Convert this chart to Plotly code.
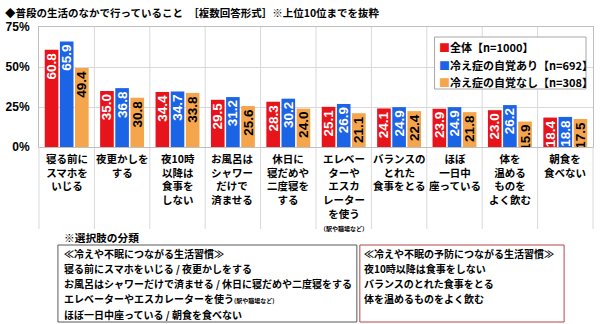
import plotly.graph_objects as go

categories = [
    "寝る前に<br>スマホを<br>いじる",
    "夜更かしを<br>する",
    "夜10時<br>以降は<br>食事を<br>しない",
    "お風呂は<br>シャワー<br>だけで<br>済ませる",
    "休日に<br>寝だめや<br>二度寝を<br>する",
    "エレベー<br>ターや<br>エスカ<br>レーター<br>を使う<br><span style='font-size:6px'>（駅や職場など）</span>",
    "バランスの<br>とれた<br>食事をとる",
    "ほぼ<br>一日中<br>座っている",
    "体を<br>温める<br>ものを<br>よく飲む",
    "朝食を<br>食べない",
]
series_names = ["全体【n=1000】", "冷え症の自覚あり【n=692】", "冷え症の自覚なし【n=308】"]
all_vals = [60.8, 35.0, 34.4, 29.5, 28.3, 25.1, 24.1, 23.9, 23.0, 18.4]
yes_vals = [65.9, 36.8, 34.7, 31.2, 30.2, 26.9, 24.9, 24.9, 26.2, 18.8]
no_vals = [49.4, 30.8, 33.8, 25.6, 24.0, 21.1, 22.4, 21.8, 15.9, 17.5]
y_ticks = [0, 25, 50, 75]
y_tick_labels = ["0%", "25%", "50%", "75%"]
title_text = "◆普段の生活のなかで行っていること　［複数回答形式］※上位10位までを抜粋"
note_title = "※選択肢の分類"
left_lines = [
    "≪冷えや不眠につながる生活習慣≫",
    "寝る前にスマホをいじる / 夜更かしをする",
    "お風呂はシャワーだけで済ませる / 休日に寝だめや二度寝をする",
    "エレベーターやエスカレーターを使う<span style='font-size:6px'>(駅や職場など)</span>",
    "ほぼ一日中座っている / 朝食を食べない",
]
right_lines = [
    "≪冷えや不眠の予防につながる生活習慣≫",
    "夜10時以降は食事をしない",
    "バランスのとれた食事をとる",
    "体を温めるものをよく飲む",
]

colors = ["#E8141C", "#1C64E6", "#F5A54C"]
text_colors = ["white", "white", "black"]
JP = "Noto Sans CJK JP"

# plot area in pixels
L, R, T, B = 38, 594, 27, 147
W, H = R - L, B - T


def px(x):
    return (x - L) / W


def py(y):
    return (B - y) / H


fig = go.Figure()
xs = list(range(len(categories)))
for name, vals, c, tc in zip(series_names, [all_vals, yes_vals, no_vals], colors, text_colors):
    fig.add_trace(go.Bar(
        x=xs, y=vals, name=name, marker=dict(color=c, line=dict(width=0)),
        text=[f"{v:.1f}" for v in vals], textposition="inside", insidetextanchor="end",
        textangle=-90, constraintext="none",
        textfont=dict(family="Liberation Sans", size=13.5, color=tc, weight="bold"),
        showlegend=False,
    ))

shapes = []
for i in range(len(categories) - 1):
    shapes.append(dict(type="line", xref="x", yref="paper", x0=i + 0.5, x1=i + 0.5,
                       y0=py(229), y1=1, line=dict(color="#d9d9d9", width=1), layer="below"))
shapes.append(dict(type="line", xref="paper", yref="paper", x0=0, x1=0, y0=py(229), y1=0,
                   line=dict(color="#d9d9d9", width=1)))
shapes.append(dict(type="line", xref="paper", yref="paper", x0=1, x1=1, y0=py(229), y1=0,
                   line=dict(color="#d9d9d9", width=1)))
shapes.append(dict(type="rect", xref="paper", yref="paper", x0=px(435), x1=px(587),
                   y0=py(89), y1=py(37), line=dict(color="#a6a6a6", width=1), fillcolor="white"))
shapes.append(dict(type="rect", xref="paper", yref="paper", x0=px(57), x1=px(357),
                   y0=py(322), y1=py(245), line=dict(color="#595959", width=1)))
shapes.append(dict(type="rect", xref="paper", yref="paper", x0=px(360), x1=px(565),
                   y0=py(322), y1=py(245), line=dict(color="#B84545", width=1)))

ann = []
for i, cat in enumerate(categories):
    ann.append(dict(x=i, y=py(149), xref="x", yref="paper", text=f"<b>{cat}</b>",
                    showarrow=False, xanchor="center", yanchor="top", align="center",
                    font=dict(family=JP, size=10.5, color="black")))
for k, (name, c) in enumerate(zip(series_names, colors)):
    yc = 47 + k * 17.5
    ann.append(dict(x=px(437), y=py(yc), xref="paper", yref="paper",
                    text=f"<span style='color:{c}'>■</span><b>{name}</b>",
                    showarrow=False, xanchor="left", yanchor="middle",
                    font=dict(family=JP, size=11, color="black")))
ann.append(dict(x=px(2), y=py(12), xref="paper", yref="paper", text=f"<b>{title_text}</b>",
                showarrow=False, xanchor="left", yanchor="middle",
                font=dict(family=JP, size=10.5, color="black")))
ann.append(dict(x=px(61), y=py(237), xref="paper", yref="paper", text=f"<b>{note_title}</b>",
                showarrow=False, xanchor="left", yanchor="middle",
                font=dict(family=JP, size=10.7, color="black")))
for k, line in enumerate(left_lines):
    ann.append(dict(x=px(61), y=py(253 + k * 15.3), xref="paper", yref="paper",
                    text=f"<b>{line}</b>", showarrow=False, xanchor="left", yanchor="middle",
                    font=dict(family=JP, size=10, color="black")))
for k, line in enumerate(right_lines):
    ann.append(dict(x=px(362), y=py(253 + k * 15.3), xref="paper", yref="paper",
                    text=f"<b>{line}</b>", showarrow=False, xanchor="left", yanchor="middle",
                    font=dict(family=JP, size=10, color="black")))

fig.update_layout(
    width=600, height=324,
    margin=dict(l=L, r=600 - R, t=T, b=324 - B, pad=0),
    paper_bgcolor="white", plot_bgcolor="white",
    barmode="group", bargap=0.18, bargroupgap=0.1,
    shapes=shapes, annotations=ann,
    xaxis=dict(range=[-0.5, len(categories) - 0.5], showticklabels=False, showgrid=False,
               zeroline=False, showline=True, mirror=True, linecolor="#bfbfbf", ticks=""),
    yaxis=dict(range=[0, 75], tickvals=y_ticks, ticktext=[f"<b>{t}</b>" for t in y_tick_labels],
               tickfont=dict(family="Liberation Sans", size=12, color="black"),
               showgrid=True, gridcolor="#d9d9d9", zeroline=False, showline=True, mirror=True,
               linecolor="#bfbfbf", ticks="", ticklabelstandoff=6),
    showlegend=False,
)

fig.write_html("out.html")
